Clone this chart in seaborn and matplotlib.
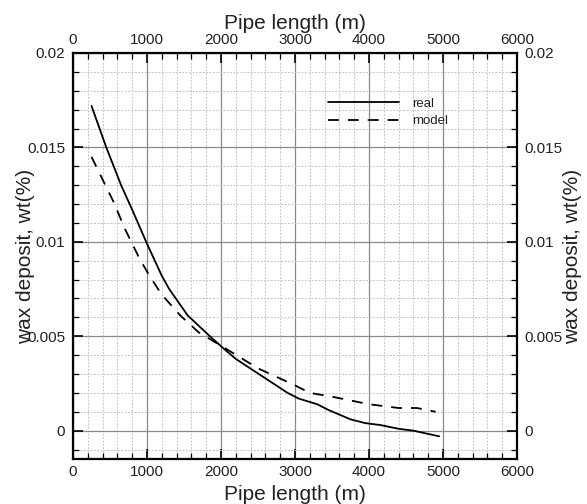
import numpy as np
import pandas as pd
import matplotlib
matplotlib.use("Agg")
import matplotlib.pyplot as plt
from matplotlib.ticker import MultipleLocator, FixedLocator
import seaborn as sns

# ---- data ----
real_x = [250, 450, 650, 800, 1000, 1200, 1300, 1550, 1850, 2050, 2200, 2550,
          2900, 3050, 3300, 3450, 3750, 3950, 4150, 4400, 4600, 4950]
real_y = [0.0172, 0.0150, 0.0130, 0.0117, 0.0099, 0.0082, 0.0075, 0.0061,
          0.0050, 0.0043, 0.0038, 0.0029, 0.0020, 0.0017, 0.0014, 0.0011,
          0.0006, 0.0004, 0.0003, 0.0001, 0.0000, -0.0003]
model_x = [250, 400, 550, 700, 900, 1050, 1200, 1450, 1700, 2000, 2500, 3000,
           3200, 3500, 4000, 4400, 4650, 4900]
model_y = [0.0145, 0.0133, 0.0121, 0.0107, 0.0091, 0.0081, 0.0072, 0.0061,
           0.0052, 0.0045, 0.0033, 0.0024, 0.0020, 0.0018, 0.0014, 0.0012,
           0.0012, 0.0010]
x_ticks = [0, 1000, 2000, 3000, 4000, 5000, 6000]
y_ticks = [0, 0.005, 0.01, 0.015, 0.02]
y_tick_labels = ["0", "0.005", "0.01", "0.015", "0.02"]
series_names = ["real", "model"]
x_label = "Pipe length (m)"
y_label = "wax deposit, wt(%)"

sns.set_theme(style="white")
plt.rcParams["font.family"] = ["Liberation Sans", "DejaVu Sans"]

fig = plt.figure(figsize=(5.87, 5.04), dpi=100)
ax = fig.add_axes([73/587, 1-459/504, 444/587, 406/504])

sns.lineplot(x=real_x, y=real_y, ax=ax, color="black", lw=1.3,
             label=series_names[0], sort=False)
sns.lineplot(x=model_x, y=model_y, ax=ax, color="black", lw=1.3,
             label=series_names[1], sort=False)
ax.lines[1].set_linestyle((0, (6, 5)))

ax.set_xlim(0, 6000)
ax.set_ylim(-0.0015, 0.02)
ax.xaxis.set_major_locator(FixedLocator(x_ticks))
ax.xaxis.set_minor_locator(MultipleLocator(200))
ax.yaxis.set_major_locator(FixedLocator(y_ticks))
ax.set_yticklabels(y_tick_labels)
ax.yaxis.set_minor_locator(MultipleLocator(0.001))

ax.grid(which="major", color="#8a8a8a", lw=0.9, ls="-")
ax.grid(which="minor", color="#c4c4c4", lw=0.7, ls=(0, (2, 1.5)))
ax.set_axisbelow(True)

ax.tick_params(which="both", direction="in", top=True, right=True,
               bottom=True, left=True, labeltop=True, labelright=True,
               colors="black", labelcolor="#222222")
ax.tick_params(which="major", length=7, width=1.2, labelsize=11, pad=4)
ax.tick_params(which="minor", length=4, width=0.9)
ax.tick_params(axis="y", which="major", pad=5.5)

for s in ax.spines.values():
    s.set_visible(True)
    s.set_color("black")
    s.set_linewidth(1.6)

ax.set_xlabel("")
ax.set_ylabel("")
ax.text(0.5, -0.101, x_label, transform=ax.transAxes, ha="center",
        va="baseline", fontsize=15, color="#222222")
ax.text(0.5, 1.059, x_label, transform=ax.transAxes, ha="center",
        va="baseline", fontsize=15, color="#222222")
ax.text(-0.108, 0.5, y_label, transform=ax.transAxes, ha="center", va="center",
        rotation=90, fontsize=15, color="#222222")
ax.text(1.124, 0.5, y_label, transform=ax.transAxes, ha="center", va="center",
        rotation=90, fontsize=15, color="#222222")

leg = ax.legend(loc="upper left", bbox_to_anchor=(0.574, 0.890), frameon=False,
                fontsize=9.5, handlelength=5.4, handletextpad=1.0,
                borderpad=0, borderaxespad=0, labelspacing=0.4)
for t in leg.get_texts():
    t.set_color("#222222")

fig.savefig("out.png", dpi=100)
